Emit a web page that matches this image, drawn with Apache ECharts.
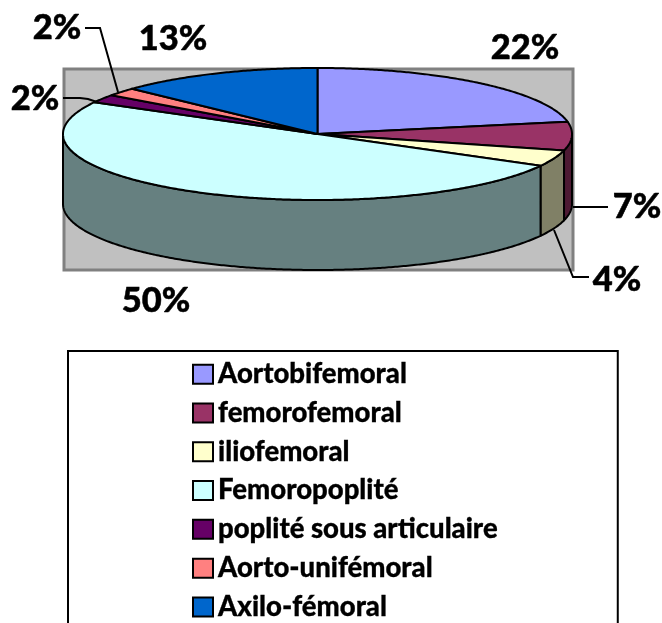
<!DOCTYPE html>
<html><head><meta charset="utf-8">
<style>html,body{margin:0;padding:0;background:#fff}#c{width:662px;height:623px}</style>
<script src="https://cdn.jsdelivr.net/npm/echarts@6/dist/echarts.min.js"></script>
</head><body><div id="c"></div>
<script>
const categories = ['Aortobifemoral','femorofemoral','iliofemoral','Femoropoplité','poplité sous articulaire','Aorto-unifémoral','Axilo-fémoral'];
const values = [22,7,4,50,2,2,13];
const colors = ['#9999FF','#993366','#FFFFCC','#CCFFFF','#660066','#FF8080','#0066CC'];
const sideColors = ['#4D4D80','#4D1A33','#808066','#668080','#330033','#804040','#003366'];
const valueLabels = ['22%','7%','4%','50%','2%','2%','13%'];

// layout, separate from the data
const PIE = {cx:317.5, cy:134, rx:254.5, ry:66, depth:70};
const PLOT = {x:64, y:69, w:509, h:201};
const FONT = '900 34.5px Lato, Carlito, sans-serif';
const labelPos = [[525,48],[637,207],[617,280],[156,301],[35,99],[57,28],[173,39]];
const leaders = [null,
  [[573,207],[608,207]],
  [[554,230],[573,277],[589,277]],
  null,
  [[63,98],[80,98],[88,99],[97,102]],
  [[118,92],[100,28],[85,28]],
  null];

function pt(t, dy){ const r=t*Math.PI/180;
  return [PIE.cx+PIE.rx*Math.sin(r), PIE.cy-PIE.ry*Math.cos(r)+(dy||0)]; }
function arc(a,b,dy){ const o=[]; const n=Math.max(2,Math.ceil((b-a)/0.5));
  for(let i=0;i<=n;i++) o.push(pt(a+(b-a)*i/n,dy)); return o; }
const total = values.reduce((s,v)=>s+v,0);
let acc = 0;
const spans = values.map(v=>{const s=acc; acc+=v; return [s,acc];});

function renderSlice(params, api){
  const i = params.seriesIndex - 1;
  const a = api.value(0)/total*360, b = api.value(1)/total*360;
  const kids = [];
  const sa=Math.max(a,90), sb=Math.min(b,270);
  if(sb>sa){
    kids.push({type:'polygon',shape:{points:arc(sa,sb,0).concat(arc(sa,sb,PIE.depth).reverse())},
      style:{fill:sideColors[i],stroke:'#000',lineWidth:2,lineJoin:'round'}});
  }
  kids.push({type:'polygon',shape:{points:[[PIE.cx,PIE.cy]].concat(arc(a,b,0))},
    style:{fill:colors[i],stroke:'#000',lineWidth:2,lineJoin:'round'}});
  if(leaders[i]) kids.push({type:'polyline',shape:{points:leaders[i]},style:{fill:'none',stroke:'#000',lineWidth:2}});
  kids.push({type:'text',style:{text:valueLabels[i],x:labelPos[i][0],y:labelPos[i][1],font:FONT,fill:'#000',stroke:'#000',lineWidth:0.5,align:'center',verticalAlign:'middle'}});
  return {type:'group',children:kids};
}
function renderPlot(){
  return {type:'rect',shape:{x:PLOT.x,y:PLOT.y,width:PLOT.w,height:PLOT.h},
    style:{fill:'#C0C0C0',stroke:'#808080',lineWidth:3}};
}

const chart = echarts.init(document.getElementById('c'),null,{renderer:'canvas'});
chart.setOption({
  animation:false,
  backgroundColor:'#fff',
  legend:{
    orient:'vertical',left:68,top:351,height:420,
    selectedMode:false,
    padding:[9,120,40,124],
    backgroundColor:'#fff',borderColor:'#000',borderWidth:2,
    itemWidth:20,itemHeight:19,itemGap:10.5,
    textStyle:{fontFamily:'Lato, Carlito, sans-serif',fontWeight:900,fontSize:27.5,color:'#000',textBorderColor:'#000',textBorderWidth:0.3},
    data:categories.map((n,i)=>({name:n,icon:'rect',itemStyle:{color:colors[i],borderColor:'#000',borderWidth:2}}))
  },
  series:[{type:'custom',name:'plot',coordinateSystem:'none',silent:true,data:[[0]],renderItem:renderPlot,z:1}]
    .concat(categories.map((n,i)=>({
      type:'custom',name:n,coordinateSystem:'none',silent:true,z:2,
      itemStyle:{color:colors[i]},
      data:[spans[i]],renderItem:renderSlice
    })))
});
</script></body></html>
